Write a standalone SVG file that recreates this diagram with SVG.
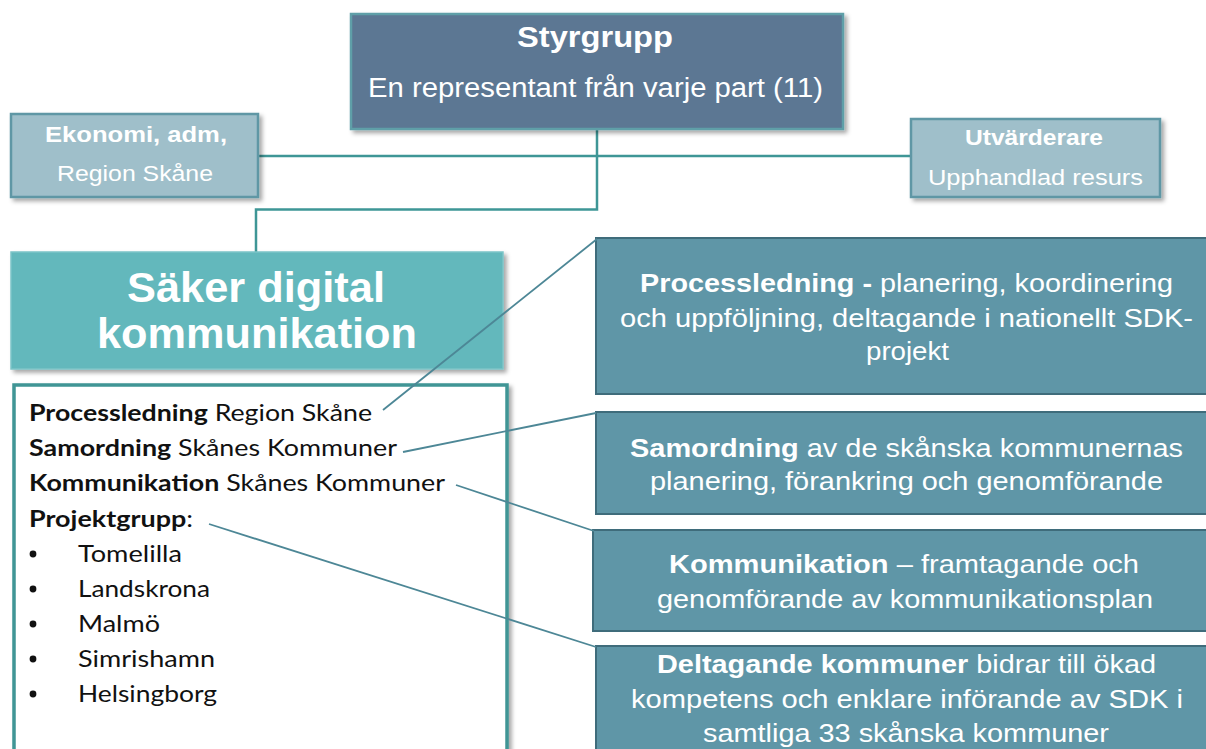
<svg xmlns="http://www.w3.org/2000/svg" width="1206" height="749" viewBox="0 0 1206 749">
<style>
.hdr{font-family:"Liberation Sans",Arial,sans-serif;fill:#fff}
.b{font-weight:bold}
.lst{font-family:Lato,"Open Sans",sans-serif;font-size:23px;fill:#111}
.right{fill:#5f96a7;stroke:#3f6c7b;stroke-width:2}
.small{fill:#9fbfca;stroke:#5f97a5;stroke-width:2.5}
.tc{fill:none;stroke:#3e9696;stroke-width:2.5}
.sc{fill:none;stroke:#4d8796;stroke-width:1.8}
.rt{font-family:"Liberation Sans",Arial,sans-serif;font-size:26px;fill:#fff}
</style>
<defs>
<filter id="sh" x="-10%" y="-10%" width="130%" height="140%">
<feDropShadow dx="3" dy="3" stdDeviation="2" flood-color="#000" flood-opacity="0.35"/>
</filter>
</defs>
<rect width="1206" height="749" fill="#fff"/>

<g id="connectors-tree">
<line class="tc" x1="258" y1="156" x2="911" y2="156"/>
<polyline class="tc" points="597,129 597,209.5 256,209.5 256,253"/>
</g>

<g id="styrgrupp">
<rect x="351" y="14" width="492" height="115" fill="#5b7793" stroke="#5e9fa8" stroke-width="2.5" filter="url(#sh)"/>
<text class="hdr b" x="517" y="47" font-size="30" textLength="156" lengthAdjust="spacingAndGlyphs">Styrgrupp</text>
<text class="hdr" x="368" y="97" font-size="27" textLength="455" lengthAdjust="spacingAndGlyphs">En representant från varje part (11)</text>
</g>

<g id="ekonomi">
<rect class="small" x="11" y="114" width="247" height="83" filter="url(#sh)"/>
<text class="hdr b" x="45" y="142" font-size="22" textLength="182" lengthAdjust="spacingAndGlyphs">Ekonomi, adm,</text>
<text class="hdr" x="57" y="181" font-size="22" textLength="156" lengthAdjust="spacingAndGlyphs">Region Skåne</text>
</g>

<g id="utvarderare">
<rect class="small" x="911" y="119" width="249" height="78" filter="url(#sh)"/>
<text class="hdr b" x="965" y="145" font-size="22" textLength="138" lengthAdjust="spacingAndGlyphs">Utvärderare</text>
<text class="hdr" x="928" y="185" font-size="22" textLength="215" lengthAdjust="spacingAndGlyphs">Upphandlad resurs</text>
</g>

<g id="saker">
<rect x="11" y="252" width="492" height="117" fill="#63b8bc" stroke="#7cc4c7" stroke-width="1.5" filter="url(#sh)"/>
<text class="hdr b" x="127" y="302" font-size="43" textLength="258" lengthAdjust="spacingAndGlyphs">Säker digital</text>
<text class="hdr b" x="97" y="348" font-size="43" textLength="320" lengthAdjust="spacingAndGlyphs">kommunikation</text>
</g>

<g id="lista">
<rect x="14" y="385" width="493" height="380" fill="#fff" stroke="#3f9595" stroke-width="3.5" filter="url(#sh)"/>
<text class="lst" x="29" y="421" textLength="343" lengthAdjust="spacingAndGlyphs"><tspan font-weight="bold">Processledning</tspan> Region Skåne</text>
<text class="lst" x="29" y="456" textLength="368" lengthAdjust="spacingAndGlyphs"><tspan font-weight="bold">Samordning</tspan> Skånes  Kommuner</text>
<text class="lst" x="29" y="491" textLength="416" lengthAdjust="spacingAndGlyphs"><tspan font-weight="bold">Kommunikation</tspan> Skånes  Kommuner</text>
<text class="lst" x="29" y="527" textLength="164" lengthAdjust="spacingAndGlyphs"><tspan font-weight="bold">Projektgrupp</tspan>:</text>
<g fill="#111">
<circle cx="33" cy="554" r="3.4"/>
<circle cx="33" cy="589" r="3.4"/>
<circle cx="33" cy="624" r="3.4"/>
<circle cx="33" cy="659" r="3.4"/>
<circle cx="33" cy="694" r="3.4"/>
</g>
<text class="lst" x="78" y="562" textLength="104" lengthAdjust="spacingAndGlyphs">Tomelilla</text>
<text class="lst" x="78" y="597" textLength="132" lengthAdjust="spacingAndGlyphs">Landskrona</text>
<text class="lst" x="78" y="632" textLength="82" lengthAdjust="spacingAndGlyphs">Malmö</text>
<text class="lst" x="78" y="667" textLength="137" lengthAdjust="spacingAndGlyphs">Simrishamn</text>
<text class="lst" x="78" y="702" textLength="139" lengthAdjust="spacingAndGlyphs">Helsingborg</text>
</g>

<g id="processledning">
<rect class="right" x="596" y="238" width="625" height="156"/>
<text class="rt" x="640" y="292" textLength="533" lengthAdjust="spacingAndGlyphs"><tspan font-weight="bold">Processledning  -</tspan> planering,  koordinering</text>
<text class="rt" x="620" y="327" textLength="573" lengthAdjust="spacingAndGlyphs">och  uppföljning,  deltagande  i nationellt  SDK-</text>
<text class="rt" x="866" y="360" textLength="83" lengthAdjust="spacingAndGlyphs">projekt</text>
</g>

<g id="samordning">
<rect class="right" x="596" y="412" width="625" height="102"/>
<text class="rt" x="630" y="457" textLength="553" lengthAdjust="spacingAndGlyphs"><tspan font-weight="bold">Samordning</tspan>  av de  skånska  kommunernas</text>
<text class="rt" x="650" y="490" textLength="513" lengthAdjust="spacingAndGlyphs">planering,  förankring  och  genomförande</text>
</g>

<g id="kommunikation">
<rect class="right" x="593" y="530" width="628" height="101"/>
<text class="rt" x="669" y="573" textLength="470" lengthAdjust="spacingAndGlyphs"><tspan font-weight="bold">Kommunikation</tspan>  – framtagande  och</text>
<text class="rt" x="657" y="608" textLength="496" lengthAdjust="spacingAndGlyphs">genomförande  av  kommunikationsplan</text>
</g>

<g id="deltagande">
<rect class="right" x="596" y="646" width="625" height="120"/>
<text class="rt" x="657" y="673" textLength="499" lengthAdjust="spacingAndGlyphs"><tspan font-weight="bold">Deltagande  kommuner</tspan> bidrar  till  ökad</text>
<text class="rt" x="631" y="708" textLength="552" lengthAdjust="spacingAndGlyphs">kompetens  och  enklare  införande  av  SDK i</text>
<text class="rt" x="703" y="742" textLength="406" lengthAdjust="spacingAndGlyphs">samtliga  33  skånska  kommuner</text>
</g>

<g id="connectors-links">
<line class="sc" x1="383" y1="410" x2="597" y2="239"/>
<line class="sc" x1="403" y1="452" x2="596" y2="413"/>
<line class="sc" x1="456" y1="485" x2="594" y2="531"/>
<line class="sc" x1="209" y1="524" x2="596" y2="647"/>
</g>
</svg>
